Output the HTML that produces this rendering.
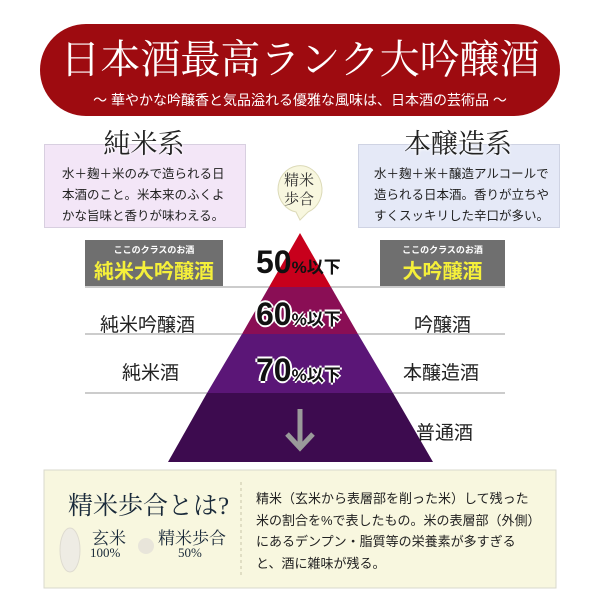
<!DOCTYPE html>
<html><head><meta charset="utf-8"><style>
body{margin:0;width:600px;height:600px;background:#fff;overflow:hidden;font-family:"Liberation Sans","Noto Sans CJK JP",sans-serif;}
.a{position:absolute;white-space:nowrap;}
.serif{font-family:"Liberation Serif","Noto Serif CJK SC",serif;}
</style></head><body>
<div class="a" style="left:40px;top:24px;width:520px;height:92px;border-radius:46px;background:#9e0b10;"></div>
<div class="a serif" style="left:40px;top:36px;width:520px;text-align:center;color:#fff;font-size:40px;line-height:48px;">日本酒最高ランク大吟醸酒</div>
<div class="a" style="left:40px;top:90px;width:520px;text-align:center;color:#fff;font-size:14px;">～ 華やかな吟醸香と気品溢れる優雅な風味は、日本酒の芸術品 ～</div>

<div class="a" style="left:44px;top:144px;width:200px;height:82px;background:#f3e6f7;border:1px solid #d8cfe0;"></div>
<div class="a serif" style="left:44px;top:122px;width:200px;text-align:center;font-size:27px;color:#222;text-shadow:0 0 3px #fff,0 0 3px #fff;">純米系</div>
<div class="a" style="left:62px;top:164px;font-size:12.5px;line-height:21px;color:#222;">水＋麹＋米のみで造られる日<br>本酒のこと。米本来のふくよ<br>かな旨味と香りが味わえる。</div>

<div class="a" style="left:358px;top:144px;width:200px;height:82px;background:#e5e9f7;border:1px solid #cfd3e3;"></div>
<div class="a serif" style="left:358px;top:122px;width:200px;text-align:center;font-size:27px;color:#222;text-shadow:0 0 3px #fff,0 0 3px #fff;">本醸造系</div>
<div class="a" style="left:374px;top:164px;font-size:12.5px;line-height:21px;color:#222;">水＋麹＋米＋醸造アルコールで<br>造られる日本酒。香りが立ちや<br>すくスッキリした辛口が多い。</div>

<svg class="a" style="left:0;top:0" width="600" height="600">
<path d="M278 190 a22 24 0 1 1 30 22 l-8 8 l-4 -8 a22 24 0 0 1 -18 -22z" fill="#f8f7df" stroke="#dcdab8"/>
<polygon points="300,233 331,287 269,287" fill="#c8001c"/>
<polygon points="269,287 331,287 358,334 242,334" fill="#8a0e55"/>
<polygon points="242,334 358,334 393,393 207,393" fill="#5b1677"/>
<polygon points="207,393 393,393 433,462 168,462" fill="#3d0b4f"/>
<g stroke="#999" stroke-width="1">
<line x1="85" y1="287" x2="269" y2="287"/><line x1="331" y1="287" x2="505" y2="287"/>
<line x1="85" y1="334" x2="242" y2="334"/><line x1="358" y1="334" x2="505" y2="334"/>
<line x1="85" y1="393" x2="207" y2="393"/><line x1="393" y1="393" x2="505" y2="393"/>
</g>
<g stroke="#9a9a9a" stroke-width="5" fill="none"><line x1="300" y1="409" x2="300" y2="446"/><polyline points="287,434 300,448 313,434"/></g>
<rect x="85" y="240" width="138" height="46" fill="#6f6f6f"/>
<rect x="380" y="240" width="125" height="46" fill="#6f6f6f"/>
<rect x="44" y="470" width="512" height="118" fill="#f8f7df" stroke="#d9d9cc"/>
<line x1="241" y1="482" x2="241" y2="578" stroke="#c8c4a8" stroke-dasharray="3,3"/>
<ellipse cx="70" cy="550" rx="10" ry="22" fill="#eeece4" stroke="#dedbd0"/>
<circle cx="146" cy="546" r="8" fill="#e8e5da"/>
</svg>
<div class="a" style="left:85px;top:243px;width:138px;text-align:center;color:#fff;font-size:9px;font-weight:bold;">ここのクラスのお酒</div>
<div class="a" style="left:85px;top:255px;width:138px;text-align:center;color:#f5f03a;font-size:20px;font-weight:bold;">純米大吟醸酒</div>
<div class="a" style="left:380px;top:243px;width:125px;text-align:center;color:#fff;font-size:9px;font-weight:bold;">ここのクラスのお酒</div>
<div class="a" style="left:380px;top:255px;width:125px;text-align:center;color:#f5f03a;font-size:20px;font-weight:bold;">大吟醸酒</div>

<div class="a" style="left:256px;top:244px;font-weight:bold;font-size:32px;color:#111;">50<span style="font-size:17px">%以下</span></div>
<div class="a" style="left:256px;top:296px;font-weight:bold;font-size:32px;color:#111;text-shadow:-2px 0 #fff,2px 0 #fff,0 -2px #fff,0 2px #fff;">60<span style="font-size:17px">%以下</span></div>
<div class="a" style="left:256px;top:352px;font-weight:bold;font-size:32px;color:#111;text-shadow:-2px 0 #fff,2px 0 #fff,0 -2px #fff,0 2px #fff;">70<span style="font-size:17px">%以下</span></div>

<div class="a" style="left:100px;top:310px;font-size:19px;color:#222;">純米吟醸酒</div>
<div class="a" style="left:414px;top:310px;font-size:19px;color:#222;">吟醸酒</div>
<div class="a" style="left:122px;top:358px;font-size:19px;color:#222;">純米酒</div>
<div class="a" style="left:403px;top:358px;font-size:19px;color:#222;">本醸造酒</div>
<div class="a" style="left:416px;top:418px;font-size:19px;color:#222;">普通酒</div>

<div class="a serif" style="left:68px;top:486px;font-size:25px;color:#1a2a3a;">精米歩合とは?</div>
<div class="a serif" style="left:92px;top:524px;font-size:17px;color:#1a2a3a;">玄米</div>
<div class="a serif" style="left:90px;top:545px;font-size:13px;color:#1a2a3a;">100%</div>
<div class="a serif" style="left:158px;top:524px;font-size:17px;color:#1a2a3a;">精米歩合</div>
<div class="a serif" style="left:178px;top:545px;font-size:13px;color:#1a2a3a;">50%</div>
<div class="a" style="left:256px;top:488px;font-size:13px;line-height:21.5px;color:#222;">精米（玄米から表層部を削った米）して残った<br>米の割合を%で表したもの。米の表層部（外側）<br>にあるデンプン・脂質等の栄養素が多すぎる<br>と、酒に雑味が残る。</div>
<div class="a serif" style="left:284px;top:172px;font-size:15px;line-height:19px;color:#333;text-align:center;">精米<br>歩合</div>
</body></html>
